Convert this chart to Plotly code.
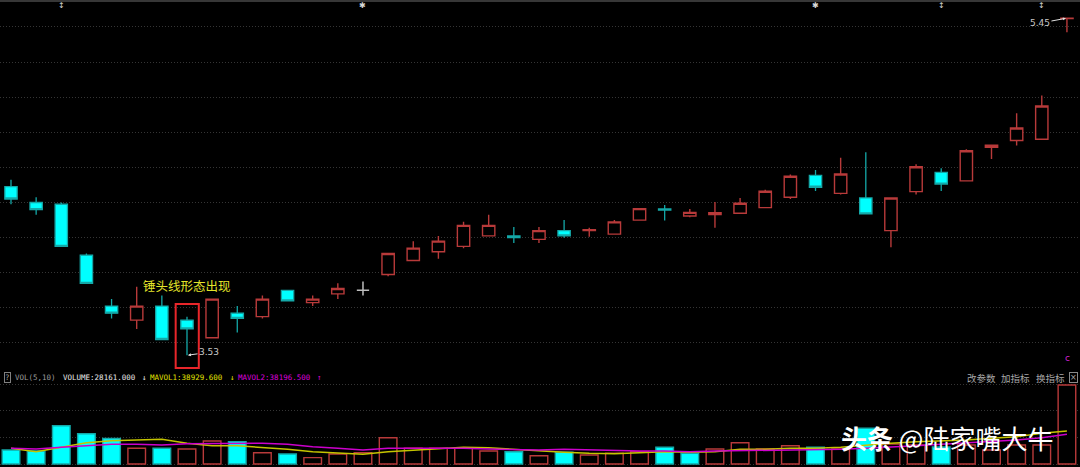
import plotly.graph_objects as go

W, H = 1080, 467

# ---------------- data ----------------
opens  = [4.49, 4.40, 4.39, 4.10, 3.81, 3.73, 3.81, 3.73, 3.63, 3.77,
          3.75, 3.90, 3.83, 3.88, 3.90, 3.99, 4.07, 4.12, 4.15, 4.21,
          4.21, 4.19, 4.24, 4.240, 4.22, 4.300, 4.363, 4.323, 4.331, 4.339,
          4.371, 4.43, 4.555, 4.452, 4.426, 4.24, 4.462, 4.572, 4.523, 4.714,
          4.753, 4.76, 5.448]
highs  = [4.53, 4.43, 4.40, 4.11, 3.85, 3.92, 3.87, 3.75, 3.85, 3.81,
          3.87, 3.90, 3.87, 3.94, 3.95, 4.11, 4.18, 4.21, 4.29, 4.33,
          4.26, 4.26, 4.30, 4.257, 4.30, 4.365, 4.386, 4.363, 4.403, 4.426,
          4.473, 4.56, 4.585, 4.655, 4.686, 4.426, 4.618, 4.595, 4.703, 4.726,
          4.908, 5.01, 5.45]
lows   = [4.39, 4.33, 4.15, 3.94, 3.74, 3.68, 3.62, 3.53, 3.63, 3.66,
          3.74, 3.84, 3.81, 3.85, 3.87, 3.98, 4.07, 4.08, 4.14, 4.21,
          4.17, 4.17, 4.20, 4.205, 4.22, 4.296, 4.297, 4.316, 4.257, 4.335,
          4.371, 4.42, 4.466, 4.445, 4.335, 4.145, 4.445, 4.466, 4.521, 4.648,
          4.725, 4.76, 5.37]
closes = [4.42, 4.36, 4.15, 3.94, 3.77, 3.81, 3.62, 3.68, 3.85, 3.74,
          3.85, 3.84, 3.85, 3.91, 3.90, 4.11, 4.14, 4.18, 4.27, 4.27,
          4.20, 4.24, 4.21, 4.245, 4.29, 4.365, 4.357, 4.344, 4.342, 4.396,
          4.464, 4.55, 4.487, 4.562, 4.335, 4.426, 4.604, 4.505, 4.695, 4.726,
          4.824, 4.95, 5.45]

volumes = [26300, 24400, 72000, 57000, 48000, 29500, 29500, 28161, 43200, 42000,
           21200, 18800, 11900, 18800, 21200, 49400, 29500, 29500, 30600, 24400,
           23100, 15600, 22000, 16900, 20100, 23100, 31400, 20100, 28200, 40000,
           28200, 34400, 31400, 28200, 67100, 37600, 35700, 32000, 35700, 26300,
           35700, 35700, 148500]
# 1 = up (red hollow), 0 = down (cyan)
vol_up = [0, 0, 0, 0, 0, 1, 0, 1, 1, 0,
          1, 0, 1, 1, 1, 1, 1, 1, 1, 1,
          0, 1, 0, 1, 1, 1, 0, 0, 1, 1,
          1, 1, 0, 1, 0, 1, 1, 0, 1, 1,
          1, 1, 1]
mavol1 = [29500, 23100, 31400, 40000, 43800, 45700, 46400, 38929.6, 34400, 34400,
          31400, 27600, 23100, 21200, 18200, 23100, 26300, 29500, 31400, 30600,
          27600, 24400, 22000, 20100, 19400, 21200, 23100, 22000, 23100, 27600,
          27600, 29500, 29500, 31400, 35700, 38900, 41900, 43200, 45100, 48300,
          51300, 57700, 62000]
mavol2 = [29500, 28200, 31400, 33800, 37000, 37000, 35700, 38196.5, 38200, 38900,
          38900, 37000, 32500, 29500, 26300, 29500, 29500, 30600, 29500, 28200,
          27600, 26300, 27600, 26300, 25800, 24400, 24400, 23100, 24400, 25000,
          25000, 26300, 26300, 27600, 29500, 31400, 34400, 37000, 40000, 41900,
          45100, 49400, 55800]

price_grid = [3.6, 3.8, 4.0, 4.2, 4.4, 4.6, 4.8, 5.0, 5.2, 5.4]
vol_grid = [0, 50000, 100000, 150000]
marker_idx = [2, 14, 32, 37, 41]
marker_sym = ["↕", "✱", "✱", "↕", "↕"]

header_volume = 28161.000
header_mavol1 = 38929.600
header_mavol2 = 38196.500
pattern_label = "锤头线形态出现"
menu_items = ["改参数", "加指标", "换指标"]
watermark = "<b>头条</b> @陆家嘴大牛"

# ---------------- styling ----------------
RED = "#b83a3a"
CYAN = "#00ffff"
TEAL = "#14a8a8"
YEL = "#c4c400"
MAG = "#cc00cc"
GRID = "#353535"
DOT = "1px,2px"

n = len(opens)
idx = list(range(n))
flat = [i for i in idx if opens[i] == closes[i]]
norm = [i for i in idx if opens[i] != closes[i]]

fig = go.Figure()

fig.add_trace(go.Candlestick(
    x=norm,
    open=[opens[i] for i in norm], high=[highs[i] for i in norm],
    low=[lows[i] for i in norm], close=[closes[i] for i in norm],
    increasing=dict(line=dict(color=RED, width=1.4), fillcolor="#000000"),
    decreasing=dict(line=dict(color=TEAL, width=1.3), fillcolor=CYAN),
    whiskerwidth=0, hoverinfo="skip", xaxis="x", yaxis="y"))

fig.add_trace(go.Candlestick(
    x=flat,
    open=[opens[i] for i in flat], high=[highs[i] for i in flat],
    low=[lows[i] for i in flat], close=[closes[i] for i in flat],
    increasing=dict(line=dict(color="#bdbdbd", width=1.5), fillcolor="#bdbdbd"),
    decreasing=dict(line=dict(color="#bdbdbd", width=1.5), fillcolor="#bdbdbd"),
    whiskerwidth=0, hoverinfo="skip", xaxis="x", yaxis="y"))

fig.add_trace(go.Bar(
    x=idx, y=volumes, width=0.7,
    marker=dict(color=["#000000" if u else CYAN for u in vol_up],
                line=dict(color=[RED if u else TEAL for u in vol_up], width=1.4)),
    hoverinfo="skip", xaxis="x", yaxis="y2"))

fig.add_trace(go.Scatter(x=idx, y=mavol1, mode="lines",
                         line=dict(color=YEL, width=1.5), hoverinfo="skip",
                         xaxis="x", yaxis="y2"))
fig.add_trace(go.Scatter(x=idx, y=mavol2, mode="lines",
                         line=dict(color=MAG, width=1.5), hoverinfo="skip",
                         xaxis="x", yaxis="y2"))

# ---------------- axes ----------------
fig.update_layout(
    width=W, height=H, margin=dict(l=0, r=0, t=0, b=0),
    paper_bgcolor="#000000", plot_bgcolor="#000000", showlegend=False,
    barmode="overlay",
    xaxis=dict(range=[-0.4375, 42.52], showgrid=False, zeroline=False,
               showticklabels=False, ticks="", showline=False,
               rangeslider=dict(visible=False), anchor="y2"),
    yaxis=dict(domain=[1 - 370 / H, 1], range=[3.4462, 5.5533],
               tickvals=price_grid, showticklabels=False, ticks="",
               gridcolor=GRID, griddash=DOT, gridwidth=1, zeroline=False,
               showline=False),
    yaxis2=dict(domain=[0, 87 / H], range=[-5640, 157920],
                tickvals=vol_grid, showticklabels=False, ticks="",
                gridcolor=GRID, griddash=DOT, gridwidth=1, zeroline=False,
                showline=False),
)

def px(x):
    return x / W

def py(y):
    return 1 - y / H

ann = []
MONO = "DejaVu Sans Mono"
CJK = "Noto Sans CJK SC"

# hammer pattern label and box
hi = lows.index(min(lows))
ann.append(dict(x=hi, y=3.925, xref="x", yref="y", text=pattern_label,
                showarrow=False, font=dict(family=CJK, size=12.5, color="#e4e42a"),
                xanchor="center", yanchor="middle"))
fig.add_shape(type="rect", xref="x", yref="y", x0=hi - 0.45, x1=hi + 0.47,
              y0=3.457, y1=3.822, line=dict(color="#e8262a", width=2))

# low / high labels
ann.append(dict(x=hi, y=lows[hi], xref="x", yref="y", text=f"{lows[hi]:.2f}",
                showarrow=True, ax=22, ay=-3, arrowhead=2, arrowsize=0.6,
                arrowwidth=1, arrowcolor="#e0e0e0", standoff=1,
                font=dict(family="DejaVu Sans", size=9, color="#c8c8c8")))
top = highs.index(max(highs))
ann.append(dict(x=top, y=highs[top], xref="x", yref="y", text=f"{highs[top]:.2f}",
                showarrow=True, ax=-27, ay=5, arrowhead=2, arrowsize=0.6,
                arrowwidth=1, arrowcolor="#e0e0e0", standoff=1,
                font=dict(family="DejaVu Sans", size=9, color="#c8c8c8")))

# top event markers
for i, s in zip(marker_idx, marker_sym):
    ann.append(dict(x=i, y=py(6), xref="x", yref="paper", text=s, showarrow=False,
                    font=dict(family="DejaVu Sans", size=8, color="#d8d8d8"),
                    xanchor="center", yanchor="middle"))

# volume header
hy = py(377.5)
ann.append(dict(x=px(7), y=hy, xref="paper", yref="paper", text="?",
                showarrow=False, bordercolor="#808080", borderwidth=1, borderpad=0,
                font=dict(family=MONO, size=7.5, color="#a0a0a0"),
                xanchor="center", yanchor="middle"))
for x0, t, c in [(13, "VOL(5,10)", "#9c9c9c"),
                 (61, f"VOLUME:{header_volume:.3f}", "#e8e8e8"),
                 (140, "↓", "#e8e8e8"),
                 (148, f"MAVOL1:{header_mavol1:.3f}", "#e2e200"),
                 (228, "↓", "#e2e200"),
                 (236, f"MAVOL2:{header_mavol2:.3f}", "#dd00dd"),
                 (315, "↑", "#dd00dd")]:
    ann.append(dict(x=px(x0), y=hy, xref="paper", yref="paper", text=t,
                    showarrow=False, font=dict(family=MONO, size=7.5, color=c),
                    xanchor="left", yanchor="middle"))

for x0, t in zip([965, 999, 1034], menu_items):
    ann.append(dict(x=px(x0), y=hy, xref="paper", yref="paper", text=t,
                    showarrow=False, font=dict(family=CJK, size=9.5, color="#a8a8a8"),
                    xanchor="left", yanchor="middle"))
ann.append(dict(x=px(1073), y=hy, xref="paper", yref="paper", text="×",
                showarrow=False, bordercolor="#8a8a8a", borderwidth=1, borderpad=0,
                font=dict(family="DejaVu Sans", size=8, color="#a8a8a8"),
                xanchor="center", yanchor="middle"))
ann.append(dict(x=px(1067), y=py(358), xref="paper", yref="paper", text="c",
                showarrow=False, font=dict(family="DejaVu Sans", size=9, color="#d020d0"),
                xanchor="center", yanchor="middle"))

# watermark
ann.append(dict(x=px(947), y=py(437), xref="paper", yref="paper", text=watermark,
                showarrow=False, font=dict(family=CJK, size=26, color="#ffffff"),
                xanchor="center", yanchor="middle"))

fig.update_layout(annotations=ann)

# top border
fig.add_shape(type="line", xref="paper", yref="paper", x0=0, x1=1,
              y0=py(1), y1=py(1), line=dict(color="#4a4a4a", width=1.5))

fig.write_html(
    "out.html",
    config={"displayModeBar": False, "staticPlot": True},
    post_script="document.body.style.margin='0';document.body.style.padding='0';"
                "document.body.style.overflow='hidden';"
                "document.documentElement.style.background='#000';",
)
